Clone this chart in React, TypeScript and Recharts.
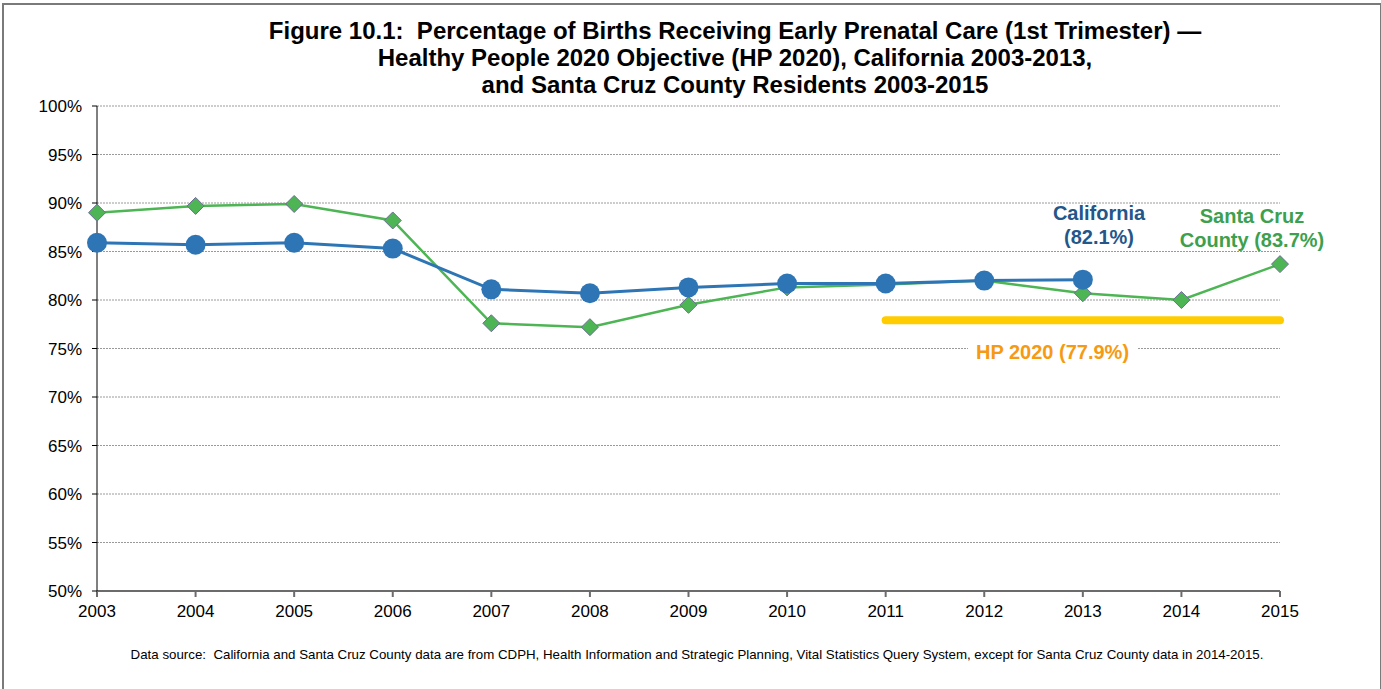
import React from 'react';
import { LineChart, Line, XAxis, YAxis, CartesianGrid } from 'recharts';

const years = [2003, 2004, 2005, 2006, 2007, 2008, 2009, 2010, 2011, 2012, 2013, 2014, 2015];
const california = [85.9, 85.7, 85.9, 85.3, 81.1, 80.7, 81.3, 81.7, 81.7, 82.0, 82.1, null, null];
const santaCruz = [89.0, 89.7, 89.9, 88.2, 77.6, 77.2, 79.5, 81.3, 81.6, 82.0, 80.7, 80.0, 83.7];
const hp2020 = [null, null, null, null, null, null, null, null, 77.9, 77.9, 77.9, 77.9, 77.9];
const yTicks = [50, 55, 60, 65, 70, 75, 80, 85, 90, 95, 100];

const data = years.map((year, i) => ({
  year,
  california: california[i],
  santaCruz: santaCruz[i],
  hp: hp2020[i],
}));

const FONT = '"Liberation Sans", Arial, sans-serif';

const Diamond = (props: any) => {
  const { cx, cy, index } = props;
  if (cx == null || cy == null) return <g key={index} />;
  const s = 8.5;
  return (
    <polygon
      key={index}
      points={`${cx},${cy - s} ${cx + s},${cy} ${cx},${cy + s} ${cx - s},${cy}`}
      fill="#4DB553"
      stroke="#6E6E96"
      strokeWidth={1}
    />
  );
};

const App: React.FC = () => {
  return (
    <div style={{ position: 'absolute', left: 0, top: 0, width: 1381, height: 689, background: '#fff', fontFamily: FONT, overflow: 'hidden' }}>
      <div
        style={{
          position: 'absolute',
          left: 2,
          top: 3,
          width: 1376,
          height: 700,
          borderTop: '2px solid #7a7a7a',
          borderLeft: '2px solid #7a7a7a',
          borderRight: '2px solid #7a7a7a',
        }}
      />
      <div
        style={{
          position: 'absolute',
          left: 0,
          top: 17,
          width: 1470,
          textAlign: 'center',
          fontWeight: 'bold',
          fontSize: 24,
          lineHeight: '27px',
          color: '#000',
          whiteSpace: 'nowrap',
        }}
      >
        Figure 10.1:&nbsp; Percentage of Births Receiving Early Prenatal Care (1st Trimester) —<br />
        Healthy People 2020 Objective (HP 2020), California 2003-2013,<br />
        and Santa Cruz County Residents 2003-2015
      </div>
      <LineChart width={1381} height={689} data={data} margin={{ top: 106, right: 101, left: 27, bottom: 68 }}>
        <CartesianGrid vertical={false} stroke="#9a9a9a" strokeDasharray="2 1" />
        <XAxis
          dataKey="year"
          type="number"
          domain={[2003, 2015]}
          ticks={years}
          interval={0}
          stroke="#6b6b6b"
          strokeWidth={2}
          tickSize={6}
          tickMargin={8}
          tick={{ fill: '#000', fontSize: 17, fontFamily: FONT }}
          height={30}
        />
        <YAxis
          domain={[50, 100]}
          ticks={yTicks}
          interval={0}
          stroke="#000"
          tickSize={5}
          tickMargin={10}
          width={70}
          tick={{ fill: '#000', fontSize: 17, fontFamily: FONT }}
          tickFormatter={(v: number) => `${v}%`}
        />
        <Line
          dataKey="hp"
          stroke="#FFCC00"
          strokeWidth={8}
          strokeLinecap="round"
          dot={false}
          isAnimationActive={false}
        />
        <Line
          dataKey="santaCruz"
          stroke="#4DB553"
          strokeWidth={2.5}
          dot={Diamond}
          isAnimationActive={false}
        />
        <Line
          dataKey="california"
          stroke="#2E75B6"
          strokeWidth={3}
          dot={{ r: 10, fill: '#2E75B6', stroke: 'none' }}
          isAnimationActive={false}
        />
      </LineChart>
      <div
        style={{
          position: 'absolute',
          left: 1029,
          top: 201,
          width: 140,
          textAlign: 'center',
          fontWeight: 'bold',
          fontSize: 20,
          lineHeight: '24px',
          color: '#24568A',
        }}
      >
        California
        <br />
        (82.1%)
      </div>
      <div
        style={{
          position: 'absolute',
          left: 1162,
          top: 204,
          width: 180,
          textAlign: 'center',
          fontWeight: 'bold',
          fontSize: 20,
          lineHeight: '24px',
          color: '#3EA04C',
        }}
      >
        Santa Cruz
        <br />
        County (83.7%)
      </div>
      <div
        style={{
          position: 'absolute',
          left: 968,
          top: 341,
          padding: '0 8px',
          background: '#fff',
          fontWeight: 'bold',
          fontSize: 20,
          lineHeight: '22px',
          color: '#F59A12',
          whiteSpace: 'nowrap',
        }}
      >
        HP 2020 (77.9%)
      </div>
      <div
        style={{
          position: 'absolute',
          left: 0,
          top: 647,
          width: 1394,
          textAlign: 'center',
          fontSize: 13.3,
          color: '#000',
          whiteSpace: 'nowrap',
        }}
      >
        Data source:&nbsp; California and Santa Cruz County data are from CDPH, Health Information and Strategic Planning, Vital Statistics Query System, except for Santa Cruz County data in 2014-2015.
      </div>
    </div>
  );
};

export default App;
